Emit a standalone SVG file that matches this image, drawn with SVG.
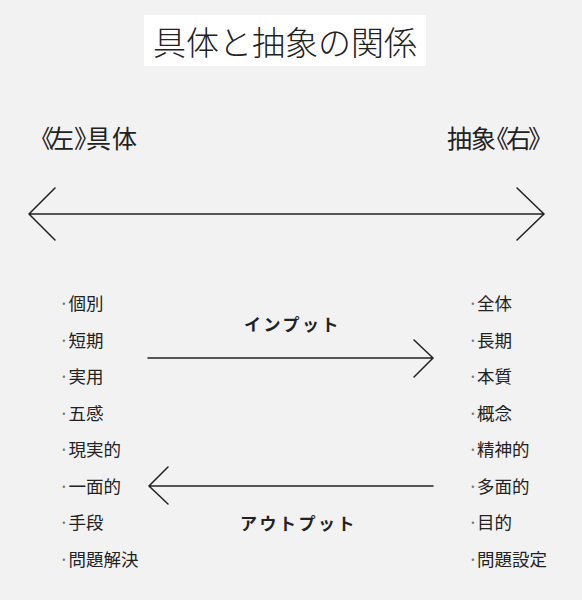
<svg xmlns="http://www.w3.org/2000/svg" width="582" height="600" viewBox="0 0 582 600">
<style>
.jp{font-family:"Noto Sans CJK JP","Noto Sans CJK SC",sans-serif;fill:#222}
.title{font-size:33px;font-weight:300}
.head{font-size:25px}
.item{font-size:17.5px}
.dot{fill:#777}
.lbl{font-size:17px;font-weight:700;letter-spacing:2.5px}
.ln{fill:none;stroke:#222;stroke-width:1.5;stroke-linecap:round;stroke-linejoin:miter}
</style>
<rect x="0" y="0" width="582" height="600" fill="#f2f2f2"/>
<g id="title">
<rect x="144" y="15" width="282" height="51" fill="#ffffff"/>
<text class="jp title" x="153" y="55">具体と抽象の関係</text>
</g>
<g id="left-header">
<text class="jp head" x="29 49 74 86 112" y="148">《左》具体</text>
</g>
<g id="right-header">
<text class="jp head" x="447 471 484 506 528" y="148">抽象《右》</text>
</g>
<g id="left-list" class="jp item">
<text y="310"><tspan class="dot" x="59">·</tspan><tspan x="68.5">個別</tspan></text>
<text y="346.5"><tspan class="dot" x="59">·</tspan><tspan x="68.5">短期</tspan></text>
<text y="383"><tspan class="dot" x="59">·</tspan><tspan x="68.5">実用</tspan></text>
<text y="419.5"><tspan class="dot" x="59">·</tspan><tspan x="68.5">五感</tspan></text>
<text y="456"><tspan class="dot" x="59">·</tspan><tspan x="68.5">現実的</tspan></text>
<text y="492.5"><tspan class="dot" x="59">·</tspan><tspan x="68.5">一面的</tspan></text>
<text y="529"><tspan class="dot" x="59">·</tspan><tspan x="68.5">手段</tspan></text>
<text y="565.5"><tspan class="dot" x="59">·</tspan><tspan x="68.5">問題解決</tspan></text>
</g>
<g id="right-list" class="jp item">
<text y="310"><tspan class="dot" x="468">·</tspan><tspan x="477">全体</tspan></text>
<text y="346.5"><tspan class="dot" x="468">·</tspan><tspan x="477">長期</tspan></text>
<text y="383"><tspan class="dot" x="468">·</tspan><tspan x="477">本質</tspan></text>
<text y="419.5"><tspan class="dot" x="468">·</tspan><tspan x="477">概念</tspan></text>
<text y="456"><tspan class="dot" x="468">·</tspan><tspan x="477">精神的</tspan></text>
<text y="492.5"><tspan class="dot" x="468">·</tspan><tspan x="477">多面的</tspan></text>
<text y="529"><tspan class="dot" x="468">·</tspan><tspan x="477">目的</tspan></text>
<text y="565.5"><tspan class="dot" x="468">·</tspan><tspan x="477">問題設定</tspan></text>
</g>
<g id="input-label">
<text class="jp lbl" x="244" y="331">インプット</text>
</g>
<g id="output-label">
<text class="jp lbl" x="240" y="530">アウトプット</text>
</g>
<g id="connectors">
<path class="ln" d="M29 214H544M55 188L29 214L55 240M517 188L544 214L517 240"/>
<path class="ln" d="M148 358H433M414 340L433 358L414 377"/>
<path class="ln" d="M433 486H149M168 467L149 486L168 504"/>
</g>
</svg>
